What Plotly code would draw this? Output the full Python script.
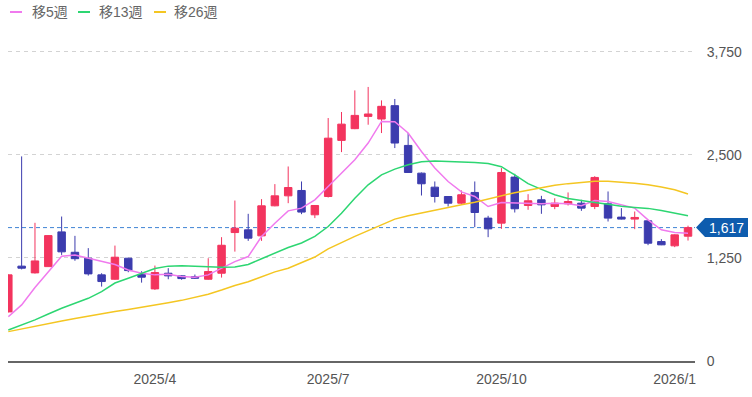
import pandas as pd
import plotly.graph_objects as go

# ---- data (weekly candles) ----
dates = pd.date_range("2025-01-20", periods=52, freq="W-MON")

opens = [595, 1150, 1068, 1144, 1565, 1318, 1246, 1044, 991, 1246,
         1048, 874, 1064, 1032, 1023, 991, 1064, 1557, 1590, 1517,
         1881, 2002, 2067, 1772, 1994, 2674, 2816, 2965, 2933, 3095,
         2613, 2277, 2107, 1994, 1913, 2043, 1732, 1671, 2229, 1885,
         1954, 1873, 1905, 1913, 1873, 1905, 1744, 1720, 1699, 1448,
         1396, 1513]
highs = [1050, 2480, 1675, 1525, 1751, 1517, 1368, 1064, 1399, 1250,
         1088, 1157, 1125, 1040, 1048, 1246, 1501, 1945, 1784, 1962,
         2144, 2358, 2176, 1890, 2945, 3018, 3280, 3322, 3159, 3176,
         2763, 2285, 2176, 1998, 2067, 2176, 1760, 2338, 2269, 2022,
         2002, 1973, 2043, 1954, 2240, 2055, 1853, 1812, 1711, 1477,
         1535, 1640]
lows = [590, 1110, 1060, 1140, 1286, 1215, 1035, 902, 985, 1076,
        950, 862, 991, 985, 995, 985, 1011, 1326, 1456, 1456,
        1875, 1913, 1780, 1732, 1982, 2532, 2810, 2864, 2763, 2581,
        2280, 2006, 1921, 1873, 1905, 1622, 1501, 1602, 1800, 1833,
        1784, 1840, 1885, 1820, 1841, 1691, 1715, 1598, 1404, 1404,
        1380, 1460]
closes = [1044, 1125, 1213, 1520, 1323, 1240, 1056, 963, 1258, 1096,
          1016, 1072, 1032, 999, 1003, 1084, 1403, 1610, 1489, 1881,
          2002, 2103, 1805, 1885, 2701, 2871, 2977, 2994, 3087, 2642,
          2285, 2148, 1994, 1913, 2015, 1800, 1602, 2285, 1845, 1942,
          1893, 1913, 1933, 1853, 2225, 1732, 1720, 1740, 1428, 1408,
          1529, 1617]

ma5 = [538, 680, 890, 1084, 1270, 1286, 1246, 1205, 1170, 1104,
       1064, 1044, 1052, 1023, 1015, 1044, 1125, 1205, 1266, 1509,
       1670, 1820, 1853, 1954, 2115, 2277, 2439, 2642, 2904, 2900,
       2763, 2540, 2340, 2176, 2050, 1994, 1873, 1921, 1913, 1905,
       1905, 1913, 1905, 1881, 1945, 1933, 1893, 1853, 1711, 1590,
       1557, 1549]
ma13 = [376, 437, 498, 570, 640, 700, 760, 840, 945, 1003,
        1064, 1120, 1150, 1155, 1150, 1140, 1135, 1140, 1170, 1240,
        1310, 1375, 1430, 1510, 1630, 1790, 1974, 2136, 2257, 2326,
        2379, 2415, 2423, 2419, 2412, 2405, 2395, 2355, 2255, 2150,
        2080, 2015, 1970, 1942, 1920, 1900, 1875, 1862, 1850, 1825,
        1792, 1762]
ma26 = [356, 390, 420, 450, 485, 515, 545, 572, 600, 625,
        650, 680, 705, 735, 770, 810, 860, 915, 960, 1020,
        1080, 1125, 1190, 1260, 1360, 1440, 1510, 1580, 1650, 1720,
        1760, 1795, 1830, 1865, 1895, 1925, 1965, 2000, 2040, 2070,
        2100, 2130, 2150, 2168, 2178, 2180, 2170, 2155, 2135, 2110,
        2075, 2025]

ma_names = ["移5週", "移13週", "移26週"]
ma_colors = ["#F07AEE", "#2DD672", "#F4C622"]

tick_dates = ["2025-04-07", "2025-07-07", "2025-10-06", "2026-01-05"]
tick_text = ["2025/4", "2025/7", "2025/10", "2026/1"]
y_ticks = [0, 1250, 2500, 3750]

UP = "#F3345E"
DOWN = "#3C3CAE"
FONT = "Liberation Sans, Noto Sans CJK JP, sans-serif"

fig = go.Figure()
fig.add_trace(go.Candlestick(
    x=dates, open=opens, high=highs, low=lows, close=closes,
    increasing=dict(line=dict(color=UP, width=1), fillcolor=UP),
    decreasing=dict(line=dict(color=DOWN, width=1), fillcolor=DOWN),
    showlegend=False, hoverinfo="skip", whiskerwidth=0,
))
for name, vals, col in zip(ma_names, [ma5, ma13, ma26], ma_colors):
    fig.add_trace(go.Scatter(
        x=dates, y=vals, mode="lines", name=name,
        line=dict(color=col, width=1.5), showlegend=False, hoverinfo="skip",
    ))

W, H = 752, 397
ML, MR, MT, MB = 8, 57, 31, 36
pw = W - ML - MR
ph = H - MT - MB

def px_to_paper_x(px):
    return (px - ML) / pw

def py_to_paper_y(py):
    return (H - MB - py) / ph

shapes = []
annotations = []
# custom legend
leg_items = [(10, 30), (78, 97), (154, 172)]
for (sx, tx), name, col in zip(leg_items, ma_names, ma_colors):
    shapes.append(dict(type="line", xref="paper", yref="paper",
                       x0=px_to_paper_x(sx), x1=px_to_paper_x(sx + 12),
                       y0=py_to_paper_y(12), y1=py_to_paper_y(12),
                       line=dict(color=col, width=2)))
    annotations.append(dict(text=name, xref="paper", yref="paper",
                            x=px_to_paper_x(tx), y=py_to_paper_y(12.5),
                            xanchor="left", yanchor="middle", showarrow=False,
                            font=dict(family=FONT, size=14, color="#666666")))

last = closes[-1]
# current price dashed line
shapes.append(dict(type="line", xref="paper", yref="y", x0=0, x1=1,
                   y0=last, y1=last, layer="below",
                   line=dict(color="#3F84D4", width=1, dash="4px,3px")))
# price tag
shapes.append(dict(type="path", xref="paper", yref="y",
                   xsizemode="pixel", ysizemode="pixel",
                   xanchor=1, yanchor=last,
                   path="M1,0 L10,9.5 L53,9.5 L53,-9.5 L10,-9.5 Z",
                   fillcolor="#0E5CAE", line=dict(width=0)))
annotations.append(dict(text=f"{last:,}", xref="paper", yref="y",
                        x=1, y=last, xanchor="center", yanchor="middle",
                        xshift=31, showarrow=False,
                        font=dict(family=FONT, size=14, color="white")))

fig.update_layout(
    width=W, height=H,
    margin=dict(l=ML, r=MR, t=MT, b=MB),
    paper_bgcolor="white", plot_bgcolor="white",
    font=dict(family=FONT, size=14, color="#555555"),
    shapes=shapes, annotations=annotations,
    showlegend=False, boxgap=0.2,
    xaxis=dict(
        type="date", range=["2025-01-19 20:00", "2026-01-15 16:00"],
        rangeslider=dict(visible=False),
        tickvals=tick_dates, ticktext=tick_text,
        showgrid=False, showline=True, linecolor="#666666", linewidth=2,
        ticks="outside", ticklen=4, tickcolor="rgba(0,0,0,0)",
        tickfont=dict(family=FONT, size=14, color="#555555"),
        zeroline=False, fixedrange=True,
    ),
    yaxis=dict(
        side="right", range=[0, 4000],
        tickvals=y_ticks, tickformat=",",
        showgrid=True, gridcolor="#D3D3D3", griddash="4px,4px", gridwidth=1,
        showline=False, zeroline=False,
        ticks="outside", ticklen=8, tickcolor="rgba(0,0,0,0)",
        tickfont=dict(family=FONT, size=14, color="#555555"),
        fixedrange=True,
    ),
)

fig.write_html("out.html", config={"displayModeBar": False},
               post_script="document.body.style.margin='0';")
